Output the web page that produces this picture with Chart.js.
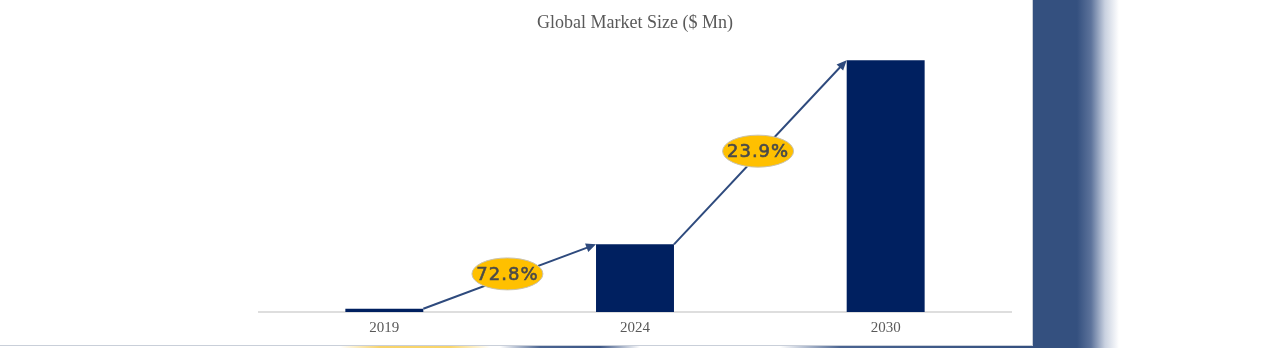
<!doctype html>
<html lang="en">
  <head>
    <title>Global Market Size</title>
    <style>
      html,
      body {
        margin: 0;
        padding: 0;
        background: #ffffff;
        width: 1268px;
        height: 348px;
        overflow: hidden;
      }

      .panel {
        position: absolute;
        left: 0;
        top: 0;
        width: 1032px;
        height: 345px;
        background: #ffffff;
        border-right: 1px solid #c9cfd9;
        border-bottom: 1px solid #c9cfd9;
      }

      /* blue side band fading out to the right */
      .side-band {
        position: absolute;
        left: 1033px;
        top: 0;
        width: 90px;
        height: 348px;
        background: linear-gradient(
          to right,
          #34507f 0px,
          #34507f 44px,
          #5d739b 58px,
          #c9d1e0 72px,
          #ffffff 86px
        );
      }

      /* thin strip peeking under the panel */
      .bottom-strip {
        position: absolute;
        left: 340px;
        top: 346px;
        width: 693px;
        height: 2px;
        background: linear-gradient(
          to right,
          rgba(255, 255, 255, 0) 0px,
          #f7d36b 40px,
          #f9d56a 110px,
          rgba(255, 255, 255, 0) 150px,
          rgba(255, 255, 255, 0) 160px,
          #4a6491 200px,
          #3c5686 260px,
          rgba(255, 255, 255, 0) 300px,
          rgba(255, 255, 255, 0) 440px,
          #4a6491 500px,
          #34507f 693px
        );
      }

      .chart-box {
        position: absolute;
        left: 0;
        top: 0;
        width: 1268px;
        height: 348px;
      }
    </style>
  </head>

  <body>
    <div class="panel"></div>
    <div class="side-band"></div>
    <div class="bottom-strip"></div>
    <div class="chart-box">
      <canvas id="marketChart" width="1268" height="348"></canvas>
    </div>

    <script src="https://cdn.jsdelivr.net/npm/chart.js@4.4.1/dist/chart.umd.min.js"></script>
    <script type="text/javascript">
      // Market size by year ($ Mn)
      const years = ["2019", "2024", "2030"];
      const marketSize = [11.6, 245.2, 912.4];
      // Growth rate shown between consecutive bars
      const cagrLabels = ["72.8%", "23.9%"];

      const barColor = "#002060";
      const arrowColor = "#2e4a7d";
      const textGray = "#595959";

      // Draws an arrow from the top of each bar to the next one, with a
      // yellow ellipse holding the growth rate
      const growthArrows = {
        id: "growthArrows",
        afterDatasetsDraw(chart) {
          const ctx = chart.ctx;
          const bars = chart.getDatasetMeta(0).data;

          for (let i = 0; i < bars.length - 1; i++) {
            const a = bars[i];
            const b = bars[i + 1];
            const x0 = a.x + a.width / 2;
            const y0 = a.y;
            const x1 = b.x - b.width / 2;
            const y1 = b.y;
            const ang = Math.atan2(y1 - y0, x1 - x0);
            const head = 10;
            const half = 4.5;

            ctx.save();
            ctx.strokeStyle = arrowColor;
            ctx.fillStyle = arrowColor;
            ctx.lineWidth = 2;
            ctx.beginPath();
            ctx.moveTo(x0, y0);
            ctx.lineTo(
              x1 - head * 0.8 * Math.cos(ang),
              y1 - head * 0.8 * Math.sin(ang),
            );
            ctx.stroke();

            // arrow head
            const bx = x1 - head * Math.cos(ang);
            const by = y1 - head * Math.sin(ang);
            ctx.beginPath();
            ctx.moveTo(x1, y1);
            ctx.lineTo(bx + half * Math.sin(ang), by - half * Math.cos(ang));
            ctx.lineTo(bx - half * Math.sin(ang), by + half * Math.cos(ang));
            ctx.closePath();
            ctx.fill();

            // label ellipse
            const t = 0.487;
            const cx = x0 + (x1 - x0) * t;
            const cy = y0 + (y1 - y0) * t - 3.5;
            ctx.beginPath();
            ctx.ellipse(cx, cy, 35.5, 16, 0, 0, Math.PI * 2);
            ctx.fillStyle = "#ffc000";
            ctx.fill();
            ctx.strokeStyle = "#c8c2b0";
            ctx.lineWidth = 1;
            ctx.stroke();

            ctx.fillStyle = "#4a4a4a";
            ctx.strokeStyle = "#4a4a4a";
            ctx.lineWidth = 0.6;
            ctx.font = "18px 'DejaVu Sans'";
            ctx.letterSpacing = "1px";
            ctx.textAlign = "center";
            ctx.textBaseline = "middle";
            ctx.fillText(cagrLabels[i], cx, cy + 1);
            ctx.strokeText(cagrLabels[i], cx, cy + 1);
            ctx.restore();
          }
        },
      };

      const ctx = document.getElementById("marketChart").getContext("2d");
      new Chart(ctx, {
        type: "bar",
        data: {
          labels: years,
          datasets: [
            {
              label: "Market Size",
              data: marketSize,
              backgroundColor: barColor,
              borderWidth: 0,
              barPercentage: 0.311,
              categoryPercentage: 1,
            },
          ],
        },
        options: {
          responsive: false,
          devicePixelRatio: 1,
          animation: false,
          layout: {
            padding: { left: 259, right: 257, top: 0, bottom: 4 },
          },
          plugins: {
            legend: { display: false },
            tooltip: { enabled: false },
            title: {
              display: true,
              text: "Global Market Size ($ Mn)",
              color: textGray,
              font: { family: "'Liberation Serif'", size: 18, weight: "normal" },
              padding: { top: 12.5, bottom: 1.9 },
            },
          },
          scales: {
            x: {
              grid: { display: false, drawTicks: false },
              border: { display: true, color: "#dedede", width: 2 },
              ticks: {
                color: textGray,
                padding: 7,
                font: { family: "'Liberation Serif'", size: 15 },
              },
            },
            y: {
              display: false,
              min: 0,
              max: 1000,
            },
          },
        },
        plugins: [growthArrows],
      });
    </script>
  </body>
</html>
